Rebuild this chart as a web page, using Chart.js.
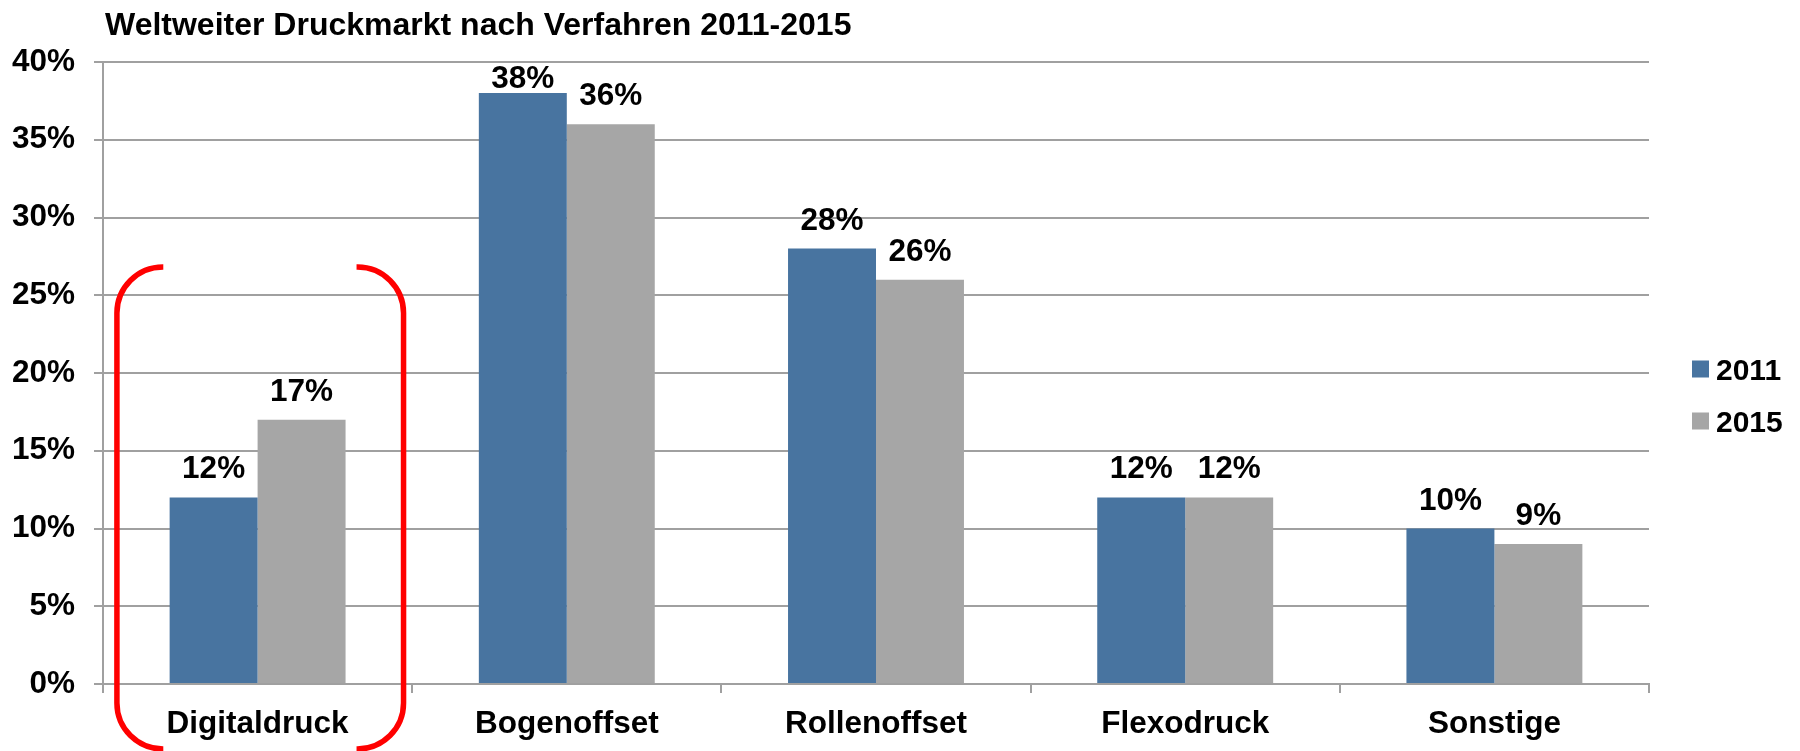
<!DOCTYPE html>
<html>
<head>
<meta charset="utf-8">
<script src="https://cdn.jsdelivr.net/npm/chart.js@4.4.0/dist/chart.umd.min.js"></script>
<style>
  html, body { margin: 0; padding: 0; background: #fff; }
  #wrap { width: 1800px; height: 751px; }
</style>
</head>
<body>
<div id="wrap"><canvas id="marketChart"></canvas></div>
<script>
// chart data
const chartTitle = 'Weltweiter Druckmarkt nach Verfahren 2011-2015';
const categories = ['Digitaldruck', 'Bogenoffset', 'Rollenoffset', 'Flexodruck', 'Sonstige'];
const seriesNames = ['2011', '2015'];
const values2011 = [12, 38, 28, 12, 10];
const values2015 = [17, 36, 26, 12, 9];
const yTicks = [0, 5, 10, 15, 20, 25, 30, 35, 40];
const highlighted = 'Digitaldruck';

const FONT = '"Liberation Sans", Arial, sans-serif';
const gridColor = '#a0a0a0';

Chart.defaults.font.family = FONT;
Chart.defaults.font.size = 31.5;
Chart.defaults.font.weight = 'bold';
Chart.defaults.color = '#000';

// title, drawn just right of the y axis
const titlePlugin = {
  id: 'leftTitle',
  afterDraw(chart) {
    const ctx = chart.ctx;
    ctx.save();
    ctx.font = 'bold 32px ' + FONT;
    ctx.fillStyle = '#000';
    ctx.textAlign = 'left';
    ctx.textBaseline = 'alphabetic';
    ctx.fillText(chartTitle, chart.chartArea.left + 2, 35);
    ctx.restore();
  }
};

// value labels on top of the bars
const valueLabels = {
  id: 'valueLabels',
  afterDatasetsDraw(chart) {
    const ctx = chart.ctx;
    const top = chart.chartArea.top;
    ctx.save();
    ctx.font = 'bold 31.5px ' + FONT;
    ctx.fillStyle = '#000';
    ctx.textAlign = 'center';
    ctx.textBaseline = 'alphabetic';
    chart.data.datasets.forEach((ds, i) => {
      chart.getDatasetMeta(i).data.forEach((bar, j) => {
        const y = Math.max(bar.y - 19, top + 26);
        ctx.fillText(ds.data[j] + '%', bar.x, y);
      });
    });
    ctx.restore();
  }
};

// legend on the right
const sideLegend = {
  id: 'sideLegend',
  afterDraw(chart) {
    const ctx = chart.ctx;
    const area = chart.chartArea;
    const x = area.right + 43;
    const cy0 = (area.top + area.bottom) / 2 - 4;
    ctx.save();
    ctx.font = 'bold 30px ' + FONT;
    ctx.textAlign = 'left';
    ctx.textBaseline = 'alphabetic';
    chart.data.datasets.forEach((ds, i) => {
      const cy = cy0 + i * 52;
      ctx.fillStyle = ds.backgroundColor;
      ctx.fillRect(x, cy - 8.5, 17, 17);
      ctx.fillStyle = '#000';
      ctx.fillText(ds.label, x + 24, cy + 11);
    });
    ctx.restore();
  }
};

// red round bracket around the highlighted category
const bracket = {
  id: 'bracket',
  afterDraw(chart) {
    const xs = chart.scales.x;
    const idx = categories.indexOf(highlighted);
    if (idx < 0) return;
    const cx = xs.getPixelForValue(idx);
    const w = xs.width / categories.length;
    const top = 267, bottom = 749, r = 46;
    const ctx = chart.ctx;
    ctx.save();
    ctx.strokeStyle = '#ff0000';
    ctx.lineWidth = 5.5;
    ctx.lineCap = 'butt';
    // left half
    let xl = cx - 0.455 * w, xe = cx - 0.305 * w;
    ctx.beginPath();
    ctx.moveTo(xe, top);
    ctx.arcTo(xl, top, xl, top + r, r);
    ctx.lineTo(xl, bottom - r);
    ctx.arcTo(xl, bottom, xe, bottom, r);
    ctx.lineTo(xe, bottom);
    ctx.stroke();
    // right half
    let xr = cx + 0.472 * w; xe = cx + 0.32 * w;
    ctx.beginPath();
    ctx.moveTo(xe, top);
    ctx.arcTo(xr, top, xr, top + r, r);
    ctx.lineTo(xr, bottom - r);
    ctx.arcTo(xr, bottom, xe, bottom, r);
    ctx.lineTo(xe, bottom);
    ctx.stroke();
    ctx.restore();
  }
};

const ctx = document.getElementById('marketChart').getContext('2d');
const marketChart = new Chart(ctx, {
  type: 'bar',
  data: {
    labels: categories,
    datasets: [
      { label: seriesNames[0], data: values2011, backgroundColor: '#4874a0' },
      { label: seriesNames[1], data: values2015, backgroundColor: '#a6a6a6' }
    ]
  },
  options: {
    responsive: true,
    maintainAspectRatio: false,
    animation: false,
    layout: { padding: { top: 62, right: 151, bottom: 0, left: 0 } },
    datasets: {
      bar: { categoryPercentage: 0.569, barPercentage: 1 }
    },
    plugins: {
      legend: { display: false },
      title: { display: false },
      tooltip: { enabled: false }
    },
    scales: {
      x: {
        grid: {
          offset: true,
          drawOnChartArea: false,
          drawTicks: true,
          tickLength: 9,
          color: gridColor,
          lineWidth: 2
        },
        border: { color: gridColor, width: 2 },
        ticks: { padding: 12, maxRotation: 0 },
        afterFit(scale) { scale.height = 67; }
      },
      y: {
        min: 0,
        max: 40,
        afterBuildTicks(scale) { scale.ticks = yTicks.map(v => ({ value: v })); },
        grid: { color: gridColor, lineWidth: 2, tickLength: 9 },
        border: { color: gridColor, width: 2 },
        ticks: { padding: 19, callback: v => v + '%' },
        afterFit(scale) { scale.width = 103; }
      }
    }
  },
  plugins: [titlePlugin, valueLabels, sideLegend, bracket]
});
</script>
</body>
</html>
